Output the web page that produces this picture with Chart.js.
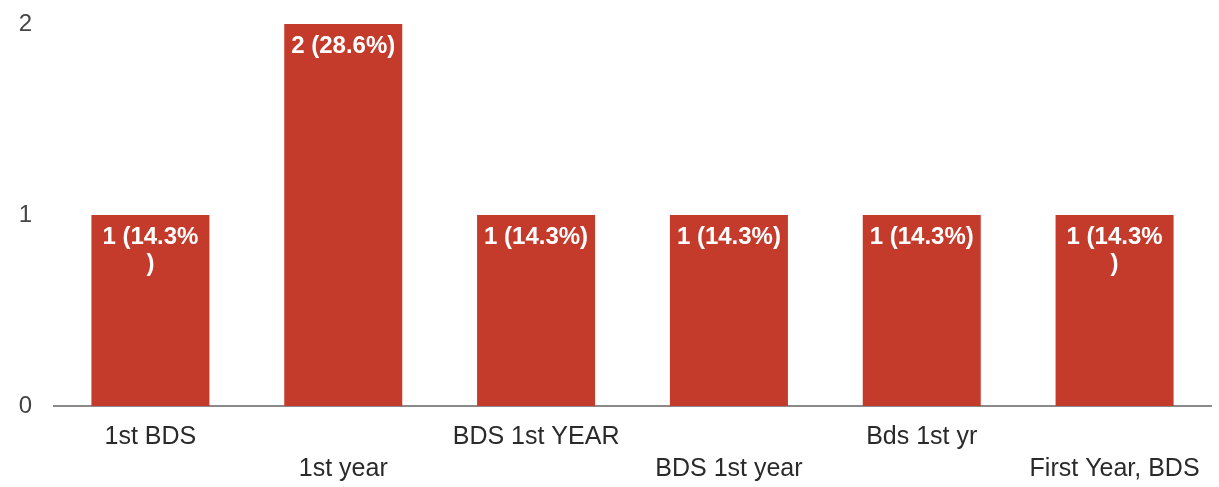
<!DOCTYPE html>
<html>
<head>
<meta charset="utf-8">
<script src="https://cdn.jsdelivr.net/npm/chart.js@4"></script>
<style>
  html, body { margin: 0; padding: 0; background: #fff; }
  #wrap { width: 1219px; height: 487px; }
</style>
</head>
<body>
<div id="wrap"><canvas id="myChart" width="1219" height="487"></canvas></div>
<script>
// answers and their counts
const categories = ['1st BDS', '1st year', 'BDS 1st YEAR', 'BDS 1st year', 'Bds 1st yr', 'First Year, BDS']
const counts = [1, 2, 1, 1, 1, 1]
const yTicks = [0, 1, 2]
// bars whose label wraps onto a second line in the original
const wrapped = [true, false, false, false, false, true]

const total = counts.reduce((a, b) => a + b, 0)
const barLabels = counts.map(v => v + ' (' + (v / total * 100).toFixed(1) + '%)')
// every second label sits on a lower row
const tickLabels = categories.map((c, i) => i % 2 ? ['', c] : c)

const barText = {
  id: 'barText',
  afterDatasetsDraw(chart) {
    const ctx = chart.ctx
    const meta = chart.getDatasetMeta(0)
    ctx.save()
    ctx.fillStyle = '#ffffff'
    ctx.font = 'bold 24px "Liberation Sans", Arial, sans-serif'
    ctx.textAlign = 'center'
    ctx.textBaseline = 'top'
    meta.data.forEach(function(bar, i) {
      let lines = [barLabels[i]]
      if (wrapped[i]) lines = [barLabels[i].slice(0, -1), ')']
      lines.forEach(function(l, j) {
        ctx.fillText(l, bar.x, bar.y + 10 + j * 27)
      })
    })
    ctx.restore()
  }
}

const ctx = document.getElementById('myChart').getContext('2d')
const chart = new Chart(ctx, {
  type: 'bar',
  data: {
    labels: tickLabels,
    datasets: [{
      data: counts,
      backgroundColor: '#c43a2b',
      categoryPercentage: 1,
      barPercentage: 0.612
    }]
  },
  options: {
    responsive: false,
    animation: false,
    layout: { padding: { top: 24, right: 8, left: 0, bottom: 0 } },
    plugins: { legend: { display: false }, tooltip: { enabled: false } },
    scales: {
      x: {
        grid: { display: false, drawTicks: false },
        border: { display: true, color: '#8a8a8a', width: 2 },
        ticks: {
          color: '#2a2a2a',
          padding: 15,
          maxRotation: 0,
          autoSkip: false,
          font: { family: '"Liberation Sans", Arial, sans-serif', size: 25, lineHeight: '32px' }
        },
        afterFit(scale) { scale.height = 81 }
      },
      y: {
        min: 0,
        max: 2,
        grid: { display: false, drawTicks: false },
        border: { display: false },
        afterBuildTicks(scale) { scale.ticks = yTicks.map(v => ({ value: v })) },
        ticks: {
          color: '#444',
          padding: 22,
          font: { family: '"Liberation Sans", Arial, sans-serif', size: 24 }
        },
        afterFit(scale) {
          scale.width = 54
          scale.paddingTop = 0
          scale.paddingBottom = 0
        }
      }
    }
  },
  plugins: [barText]
})
</script>
</body>
</html>
